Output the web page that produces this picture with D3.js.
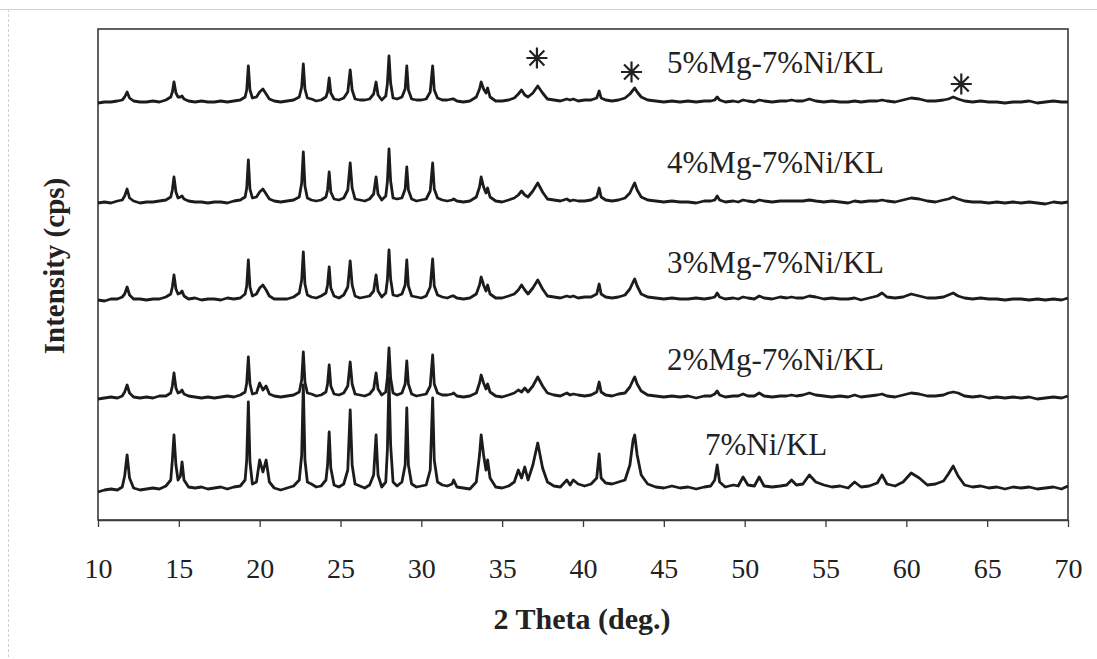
<!DOCTYPE html>
<html>
<head>
<meta charset="utf-8">
<script src="https://cdn.jsdelivr.net/npm/d3@7"></script>
<style>
  html, body { margin: 0; padding: 0; background: #fff; }
  svg { display: block; }
  text { font-family: "Liberation Serif", "Times New Roman", serif; fill: #222; }
</style>
</head>
<body>
<svg id="chart" width="1097" height="659"></svg>
<script>
// ---- Data (2 Theta grid shared by all patterns) ----
const theta = [
  10.0, 10.4, 10.8, 11.2, 11.5, 11.65, 11.8, 11.95, 12.2, 12.6,
  13.0, 13.4, 13.8, 14.2, 14.5, 14.6, 14.7, 14.82, 14.95, 15.1,
  15.2, 15.32, 15.6, 16.0, 16.4, 16.8, 17.2, 17.6, 18.0, 18.4,
  18.8, 19.1, 19.2, 19.3, 19.4, 19.55, 19.8, 20.0, 20.2, 20.4,
  20.6, 20.9, 21.3, 21.7, 22.1, 22.45, 22.6, 22.7, 22.8, 22.95,
  23.2, 23.5, 23.8, 24.1, 24.2, 24.3, 24.4, 24.6, 24.9, 25.2,
  25.45, 25.6, 25.72, 25.9, 26.2, 26.5, 26.8, 27.05, 27.2, 27.32,
  27.55, 27.8, 27.9, 28.0, 28.1, 28.25, 28.5, 28.8, 29.0, 29.1,
  29.2, 29.4, 29.7, 30.0, 30.3, 30.55, 30.7, 30.8, 31.0, 31.3,
  31.6, 31.9, 32.0, 32.2, 32.6, 33.0, 33.4, 33.6, 33.7, 33.85,
  34.0, 34.1, 34.25, 34.6, 35.0, 35.4, 35.75, 36.0, 36.2, 36.4,
  36.6, 36.9, 37.2, 37.5, 37.8, 38.2, 38.6, 39.0, 39.2, 39.4,
  39.7, 40.1, 40.5, 40.85, 41.0, 41.12, 41.4, 41.8, 42.2, 42.6,
  42.9, 43.1, 43.2, 43.35, 43.6, 44.0, 44.5, 45.0, 45.5, 46.0,
  46.5, 47.0, 47.5, 47.9, 48.15, 48.3, 48.45, 48.8, 49.3, 49.6,
  49.9, 50.2, 50.6, 50.9, 51.2, 51.7, 52.2, 52.6, 52.9, 53.2,
  53.6, 54.0, 54.4, 54.9, 55.4, 55.9, 56.4, 56.8, 57.2, 57.7,
  58.2, 58.5, 58.8, 59.3, 59.8, 60.3, 60.8, 61.3, 61.8, 62.3,
  62.6, 62.9, 63.2, 63.6, 64.1, 64.6, 65.1, 65.6, 66.1, 66.6,
  67.1, 67.6, 68.1, 68.6, 69.1, 69.6, 70.0
];

// Sample names, bottom to top
const sampleNames = ["7%Ni/KL", "2%Mg-7%Ni/KL", "3%Mg-7%Ni/KL", "4%Mg-7%Ni/KL", "5%Mg-7%Ni/KL"];
// Vertical offset of each pattern (intensity units)
const sampleOffsets = [30, 122, 220, 317, 418];

// Intensity above each pattern's own baseline (cps, arbitrary units)
const ni7 = [
  -2, 0, 1, 0, 3, 14, 35, 12, 2, 0,
  1, 2, 1, 4, 10, 30, 55, 25, 10, 14,
  28, 10, 3, 2, 3, 1, 2, 3, 1, 3,
  4, 10, 30, 88, 28, 6, 8, 30, 18, 30,
  8, 2, 0, 2, 4, 10, 35, 105, 30, 8,
  6, 3, 4, 10, 25, 58, 22, 5, 3, 6,
  20, 80, 25, 6, 4, 2, 5, 15, 55, 15,
  3, 8, 40, 112, 45, 8, 4, 8, 25, 82,
  25, 6, 3, 4, 5, 20, 92, 30, 8, 5,
  4, 6, 10, 3, 2, 1, 8, 35, 55, 35,
  20, 30, 12, 3, 2, 4, 8, 20, 12, 23,
  10, 25, 47, 22, 8, 4, 3, 10, 5, 10,
  6, 4, 6, 12, 36, 12, 7, 6, 8, 10,
  25, 50, 55, 35, 15, 6, 3, 2, 4, 2,
  3, 1, 3, 4, 10, 25, 8, 3, 5, 4,
  13, 5, 4, 13, 4, 3, 4, 5, 10, 5,
  6, 15, 8, 5, 3, 4, 2, 8, 3, 4,
  7, 15, 6, 4, 8, 17, 12, 5, 6, 9,
  16, 24, 14, 5, 3, 4, 2, 3, 1, 3,
  2, 3, 1, 2, 3, 1, 4
];
const mg2 = [
  -1, 0, 1, 0, 2, 6, 13, 5, 1, 0,
  1, 0, 2, 2, 5, 12, 25, 10, 5, 6,
  8, 4, 2, 1, 0, 1, 0, 1, 2, 1,
  3, 6, 15, 41, 14, 4, 5, 15, 8, 12,
  4, 2, 1, 2, 3, 6, 18, 46, 16, 5,
  4, 2, 3, 6, 14, 33, 12, 4, 3, 5,
  12, 36, 14, 4, 3, 2, 4, 9, 25, 9,
  3, 6, 20, 50, 20, 5, 3, 5, 14, 37,
  14, 4, 2, 3, 4, 12, 43, 14, 5, 3,
  3, 4, 5, 2, 1, 2, 5, 15, 23, 15,
  9, 14, 6, 2, 1, 3, 5, 8, 6, 10,
  6, 12, 21, 12, 5, 3, 2, 5, 3, 4,
  3, 2, 3, 6, 16, 6, 3, 2, 4, 5,
  11, 18, 21, 14, 7, 3, 2, 1, 2, 1,
  2, 0, 2, 2, 4, 7, 3, 1, 2, 2,
  4, 2, 2, 5, 2, 1, 2, 2, 3, 2,
  3, 5, 3, 2, 1, 2, 1, 3, 1, 2,
  3, 4, 2, 1, 3, 5, 4, 2, 2, 3,
  5, 6, 5, 2, 1, 2, 0, 1, 0, 1,
  0, 1, -1, 0, 1, 0, 2
];
const mg3 = [
  0, -1, 1, 1, 3, 6, 13, 5, 1, 1,
  0, 1, 1, 3, 6, 13, 25, 11, 6, 7,
  9, 4, 1, 2, 0, 1, 1, 0, 2, 1,
  2, 6, 14, 40, 13, 4, 6, 12, 15, 10,
  4, 1, 1, 1, 3, 7, 20, 48, 16, 5,
  3, 2, 4, 7, 15, 33, 12, 4, 2, 5,
  13, 39, 15, 4, 2, 3, 4, 9, 25, 9,
  3, 7, 20, 50, 21, 5, 4, 6, 15, 40,
  14, 4, 3, 2, 4, 13, 41, 14, 5, 3,
  2, 4, 4, 2, 1, 2, 6, 15, 23, 15,
  9, 15, 6, 2, 2, 4, 6, 10, 15, 10,
  6, 12, 20, 11, 4, 3, 2, 4, 3, 4,
  2, 3, 3, 6, 16, 6, 3, 2, 3, 5,
  11, 18, 21, 14, 6, 3, 2, 1, 2, 1,
  1, 2, 1, 2, 3, 7, 3, 1, 2, 1,
  3, 2, 1, 4, 2, 1, 3, 2, 3, 2,
  2, 4, 3, 1, 2, 1, 1, 2, 0, 2,
  4, 7, 3, 2, 3, 6, 4, 2, 2, 3,
  5, 7, 4, 2, 1, 2, 1, 1, 0, 1,
  1, 0, 1, 0, 1, 0, 2
];
const mg4 = [
  0, 1, 0, 2, 3, 7, 14, 5, 2, 0,
  1, 1, 2, 3, 6, 13, 26, 11, 5, 6,
  7, 4, 2, 1, 1, 0, 1, 1, 0, 2,
  3, 6, 15, 43, 14, 5, 6, 11, 14, 9,
  4, 2, 1, 2, 3, 6, 20, 51, 17, 5,
  3, 2, 3, 6, 13, 31, 11, 4, 3, 5,
  13, 40, 15, 4, 3, 2, 4, 9, 26, 9,
  3, 7, 21, 54, 22, 5, 4, 5, 14, 36,
  13, 4, 2, 3, 4, 12, 40, 14, 5, 3,
  2, 3, 4, 2, 1, 2, 6, 16, 26, 16,
  10, 15, 6, 2, 1, 3, 5, 8, 12, 8,
  6, 12, 20, 11, 4, 3, 2, 4, 2, 3,
  2, 2, 3, 6, 15, 6, 3, 2, 3, 5,
  10, 17, 20, 13, 6, 3, 2, 1, 2, 1,
  1, 0, 2, 2, 3, 7, 3, 1, 2, 1,
  3, 2, 1, 3, 2, 1, 2, 2, 2, 2,
  2, 3, 2, 1, 2, 1, 0, 2, 1, 2,
  2, 3, 2, 1, 3, 5, 4, 2, 1, 3,
  4, 6, 4, 2, 1, 1, 0, 1, 0, 1,
  0, 1, 0, -1, 1, 0, 1
];
const mg5 = [
  -1, 0, 0, 1, 2, 5, 10, 4, 1, 0,
  0, 1, 0, 2, 5, 10, 20, 9, 5, 5,
  6, 3, 1, 0, 1, 0, 0, 1, 0, 1,
  2, 5, 12, 36, 12, 4, 5, 10, 13, 8,
  3, 1, 0, 1, 2, 5, 15, 38, 13, 4,
  3, 1, 2, 5, 10, 24, 9, 3, 2, 4,
  10, 32, 12, 3, 2, 2, 3, 8, 20, 7,
  2, 6, 18, 46, 19, 4, 3, 5, 13, 36,
  12, 3, 2, 2, 3, 10, 36, 12, 4, 2,
  2, 3, 3, 1, 0, 1, 5, 13, 20, 13,
  9, 14, 5, 1, 1, 2, 4, 8, 12, 7,
  5, 9, 16, 9, 3, 2, 1, 3, 2, 3,
  1, 2, 2, 4, 11, 4, 2, 1, 2, 4,
  8, 12, 14, 10, 5, 2, 1, 0, 1, 0,
  1, 0, 1, 1, 2, 5, 2, 0, 1, 0,
  2, 1, 0, 2, 1, 0, 1, 1, 2, 1,
  1, 3, 1, 0, 1, 0, 0, 1, 0, 1,
  1, 2, 1, 0, 2, 4, 3, 1, 1, 2,
  3, 5, 3, 1, 0, 1, 0, 0, -1, 0,
  0, 1, -1, 0, 1, 0, 0
];
const seriesValues = [ni7, mg2, mg3, mg4, mg5];

// Asterisk markers (new phase peaks) on the 5%Mg pattern
const starTheta = [37.15, 43.0, 63.4];
const starIntensity = [462, 448, 436];

// Axis ticks
const xTicks = [10, 15, 20, 25, 30, 35, 40, 45, 50, 55, 60, 65, 70];

seriesValues.forEach((s, i) => {
  if (s.length !== theta.length) throw new Error("length mismatch in series " + i + ": " + s.length + " vs " + theta.length);
});

// ---- Layout ----
const svg = d3.select("#chart");
const plot = { left: 98, right: 1068, top: 29, bottom: 520 };

const x = d3.scaleLinear().domain([10, 70]).range([plot.left, plot.right]);
const y = d3.scaleLinear().domain([0, 491]).range([plot.bottom, plot.top]);

// faint outer figure frame
svg.append("line").attr("x1", 0).attr("x2", 1097).attr("y1", 9.5).attr("y2", 9.5)
  .attr("stroke", "#d4d4d4").attr("stroke-width", 1);
svg.append("line").attr("x1", 8.5).attr("x2", 8.5).attr("y1", 9).attr("y2", 659)
  .attr("stroke", "#d0d0d0").attr("stroke-width", 1).attr("stroke-dasharray", "3,2");

// plot frame
svg.append("rect")
  .attr("x", plot.left).attr("y", plot.top)
  .attr("width", plot.right - plot.left).attr("height", plot.bottom - plot.top)
  .attr("fill", "none").attr("stroke", "#3a3a3a").attr("stroke-width", 1.6);

// x axis
const xAxis = d3.axisBottom(x).tickValues(xTicks).tickFormat(d3.format("d"))
  .tickSize(7).tickSizeOuter(0).tickPadding(31);
const gx = svg.append("g").attr("transform", `translate(0,${plot.bottom})`).call(xAxis);
gx.select(".domain").attr("stroke", "#3a3a3a").attr("stroke-width", 1.6);
gx.selectAll(".tick line").attr("stroke", "#3a3a3a").attr("stroke-width", 1.3);
gx.selectAll(".tick text")
  .style("font-family", '"Liberation Serif", "Times New Roman", serif')
  .style("font-size", "28px").attr("fill", "#222");

// patterns
const line = d3.line().x(d => x(d[0])).y(d => y(d[1]));
seriesValues.forEach((vals, i) => {
  const pts = theta.map((t, j) => [t, sampleOffsets[i] + vals[j]]);
  svg.append("path").datum(pts)
    .attr("d", line)
    .attr("fill", "none")
    .attr("stroke", "#1c1c1c")
    .attr("stroke-width", 2.8)
    .attr("stroke-linejoin", "round");
});

// sample labels
const labelX = [705, 667, 667, 667, 667];
const labelY = [455, 370, 273, 173, 73];
sampleNames.forEach((name, i) => {
  svg.append("text")
    .attr("x", labelX[i]).attr("y", labelY[i])
    .style("font-size", "31px")
    .text(name);
});

// asterisks
const r = 10.5;
starTheta.forEach((t, i) => {
  const cx = x(t), cy = y(starIntensity[i]);
  const p = d3.path();
  for (let k = 0; k < 4; k++) {
    const a = k * Math.PI / 4;
    p.moveTo(cx + r * Math.cos(a), cy + r * Math.sin(a));
    p.lineTo(cx - r * Math.cos(a), cy - r * Math.sin(a));
  }
  svg.append("path").attr("d", p.toString())
    .attr("stroke", "#222").attr("stroke-width", 2.2).attr("fill", "none");
});

// axis titles
svg.append("text")
  .attr("x", 582).attr("y", 629)
  .attr("text-anchor", "middle")
  .style("font-size", "30px").style("font-weight", "bold")
  .text("2 Theta (deg.)");

svg.append("text")
  .attr("transform", "translate(64,266) rotate(-90)")
  .attr("text-anchor", "middle")
  .style("font-size", "29px").style("font-weight", "bold")
  .text("Intensity (cps)");
</script>
</body>
</html>
